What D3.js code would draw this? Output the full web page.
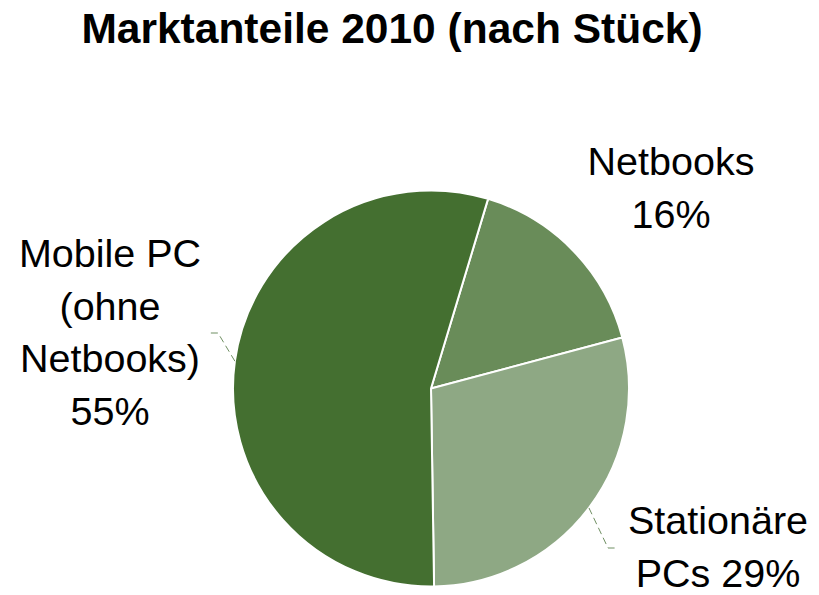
<!DOCTYPE html>
<html>
<head>
<meta charset="utf-8">
<script src="https://cdn.jsdelivr.net/npm/d3@7"></script>
<style>
  html, body { margin: 0; padding: 0; background: #fff; }
  text { font-family: "Liberation Sans", Arial, sans-serif; fill: #000; }
</style>
</head>
<body>
<div id="chart"></div>
<script>
(function() {
    "use strict";

    // data
    var categories = ["Netbooks", "Stationäre PCs", "Mobile PC (ohne Netbooks)"];
    var shares = [16.2, 28.9, 54.9];
    var labelLines = [
        ["Netbooks", "16%"],
        ["Stationäre", "PCs 29%"],
        ["Mobile PC", "(ohne", "Netbooks)", "55%"]
    ];
    var colors = ["#698c59", "#8ea884", "#446f30"];

    var width = 819, height = 595;
    var cx = 431, cy = 388.5, radius = 198;
    var startDeg = 16.75;

    // where each label block sits (center x, first baseline y) and leader knee
    var labelPos = [
        { x: 671, y: 175, lead: null },
        { x: 718, y: 534, lead: { kx: 608, ky: 548, ex: 618 } },
        { x: 110, y: 267, lead: { kx: 218, ky: 333, ex: 208 } }
    ];
    var lineStep = 52.5;

    var svg = d3.select("#chart").append("svg")
        .attr("width", width)
        .attr("height", height);

    svg.append("text")
        .attr("x", 392)
        .attr("y", 43)
        .attr("text-anchor", "middle")
        .style("font-size", "42.5px")
        .style("font-weight", "bold")
        .text("Marktanteile 2010 (nach Stück)");

    var pie = d3.pie()
        .sort(null)
        .value(function(d) { return d; })
        .startAngle(startDeg * Math.PI / 180)
        .endAngle(startDeg * Math.PI / 180 + 2 * Math.PI);

    var arcs = pie(shares);
    var arc = d3.arc().innerRadius(0).outerRadius(radius);

    var g = svg.append("g").attr("transform", "translate(" + cx + "," + cy + ")");

    g.selectAll("path.slice")
        .data(arcs)
        .join("path")
        .attr("class", "slice")
        .attr("d", arc)
        .attr("fill", function(d, i) { return colors[i]; })
        .attr("stroke", "#fff")
        .attr("stroke-width", 2)
        .attr("stroke-linejoin", "round");

    // leader lines
    arcs.forEach(function(d, i) {
        var lp = labelPos[i];
        if (!lp.lead) return;
        var mid = (d.startAngle + d.endAngle) / 2;
        var sx = cx + radius * Math.sin(mid);
        var sy = cy - radius * Math.cos(mid);
        svg.append("path")
            .attr("d", "M" + sx + "," + sy + "L" + lp.lead.kx + "," + lp.lead.ky + "L" + lp.lead.ex + "," + lp.lead.ky)
            .attr("fill", "none")
            .attr("stroke", "#6f8f62")
            .attr("stroke-width", 1)
            .attr("stroke-dasharray", "7,4");
    });

    // labels
    labelLines.forEach(function(lines, i) {
        var lp = labelPos[i];
        var t = svg.append("text")
            .attr("text-anchor", "middle")
            .style("font-size", "39.5px");
        lines.forEach(function(s, j) {
            t.append("tspan")
                .attr("x", lp.x)
                .attr("y", lp.y + j * lineStep)
                .text(s);
        });
    });
})();
</script>
</body>
</html>
